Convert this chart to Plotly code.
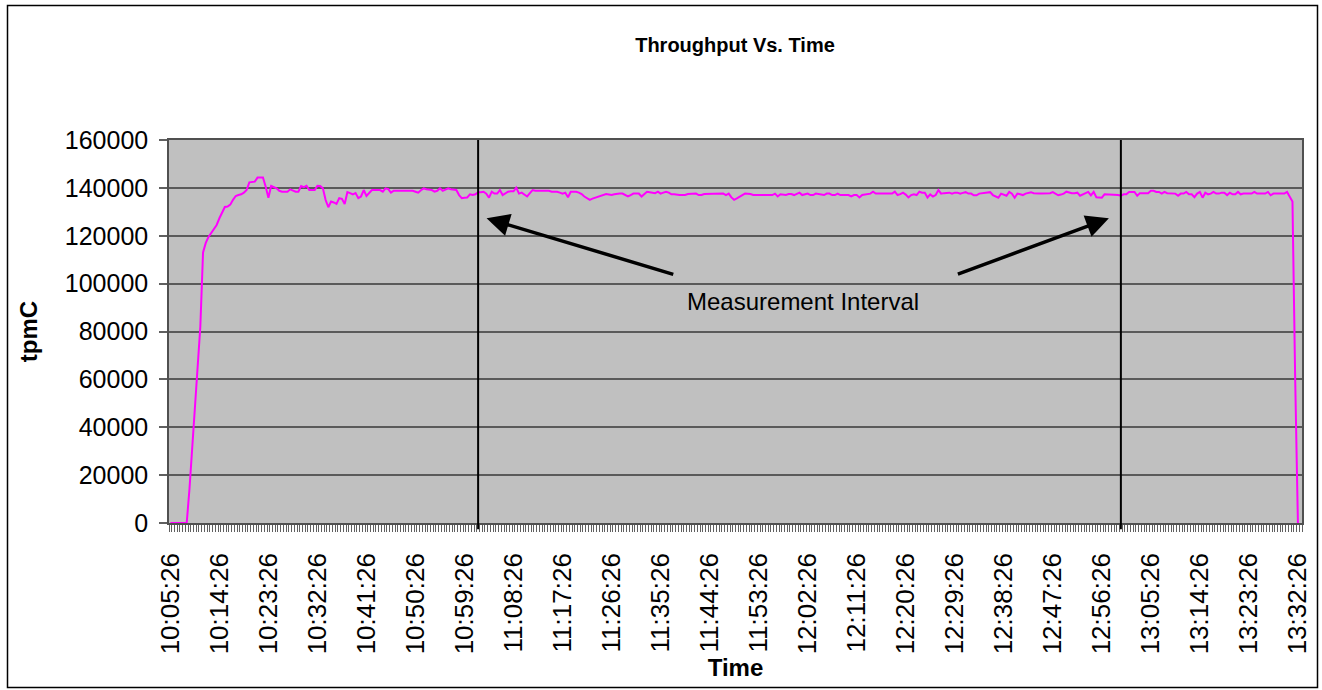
import pandas as pd
import plotly.graph_objects as go

# ---------------- data ----------------
start_time = "10:05:26"
interval_seconds = 30
label_every = 18  # one time label every 9 minutes

tpmc = [
    0, 0, 0, 0, 0, 0, 0, 14000, 30000, 47000,
    66000, 82000, 113000, 117000, 119500, 121000, 123000, 124500, 127300, 129500,
    132000, 132200, 133000, 135000, 136600, 137000, 137300, 138000, 139100, 142300,
    142500, 142600, 144300, 144300, 144300, 140500, 135900, 140800, 140200, 139800,
    138800, 138400, 138400, 138400, 139400, 138900, 138400, 138400, 140800, 140300,
    140900, 139100, 139100, 139100, 140900, 140800, 139800, 135000, 131900, 134300,
    133900, 133300, 135700, 135400, 133300, 138200, 137800, 137300, 137800, 135700,
    136400, 139100, 136600, 137800, 139100, 139100, 139100, 139100, 138400, 139800,
    139500, 138000, 138800, 138800, 139100, 138800, 139100, 138800, 139100, 138800,
    138400, 138000, 139000, 139800, 139400, 139100, 139100, 138400, 138800, 139800,
    138800, 139300, 139800, 139400, 139100, 139100, 137000, 135700, 135900, 136000,
    137300, 137000, 137300, 138200, 138200, 138400, 137600, 135900, 138400, 137600,
    137600, 139100, 137000, 137800, 138400, 138600, 138600, 140100, 137600, 138000,
    137000, 136400, 137800, 139100, 138800, 138800, 138800, 139100, 139100, 138800,
    138400, 138400, 138400, 138000, 137600, 138000, 136100, 138400, 138400, 138400,
    138000, 137400, 136400, 135600, 135000, 135500, 135900, 136200, 136400, 137000,
    137400, 137200, 137000, 137300, 137600, 137600, 137600, 137000, 136400, 137000,
    137600, 137600, 137600, 136400, 137600, 138400, 138200, 138000, 137800, 138400,
    137600, 138000, 138400, 138000, 137300, 137300, 137000, 137000, 137000, 137000,
    137400, 137400, 137600, 137600, 137000, 137000, 137400, 137400, 137600, 137600,
    137600, 137600, 137600, 137600, 137000, 137600, 136000, 135000, 135600, 136400,
    137000, 137600, 137600, 137400, 137000, 137000, 137000, 137000, 137000, 137000,
    137000, 137000, 137600, 136400, 137300, 137300, 137000, 137400, 137400, 137000,
    137600, 138000, 137000, 137300, 137600, 137000, 137000, 137600, 137300, 137000,
    137000, 137600, 137600, 137000, 137000, 137600, 137000, 137000, 137000, 137000,
    136400, 137000, 137000, 136000, 137000, 137300, 137600, 137600, 138400, 137600,
    137600, 137600, 137600, 137600, 137600, 137600, 138400, 137000, 137400, 138000,
    137200, 136000, 137000, 137300, 137000, 138400, 138000, 138000, 136000, 137300,
    136400, 137000, 139100, 137600, 137800, 138000, 138000, 137600, 138000, 138000,
    137600, 137900, 138200, 137600, 137600, 136900, 136900, 137600, 137800, 138000,
    138200, 138200, 137000, 136500, 135900, 137600, 137000, 136700, 138300, 137600,
    135900, 137600, 137300, 137000, 137600, 137800, 138200, 137800, 137600, 137600,
    137600, 137600, 137800, 137800, 138200, 137600, 136900, 137200, 137600, 138400,
    138000, 137800, 137800, 138000, 136700, 137300, 137800, 138300, 136900, 138300,
    136100, 136100, 135900, 137300, 137300, 137000, 137000, 137300, 137000, 136700,
    137300, 137300, 138300, 138300, 138300, 136700, 137800, 137800, 137800, 137800,
    138800, 138800, 138300, 138300, 137600, 138300, 137800, 137800, 137600, 137600,
    136700, 137600, 137600, 138300, 137300, 137300, 136100, 137600, 138300, 135900,
    138000, 137300, 137600, 138300, 137600, 137600, 138000, 138000, 137000, 138000,
    137300, 137300, 138300, 137300, 137600, 137600, 137600, 137600, 138300, 137600,
    137600, 137600, 137600, 138300, 136900, 137600, 137600, 137600, 137600, 137600,
    138300, 136100, 134300, 60000, 0,
]

# category labels (one sample every 30 s)
times = pd.date_range("2000-01-01 " + start_time, periods=len(tpmc),
                      freq=f"{interval_seconds}s").strftime("%H:%M:%S").tolist()
idx = list(range(len(tpmc)))
tick_idx = idx[::label_every]
tick_text = [times[i] for i in tick_idx]

# measurement interval boundaries (category index)
interval_start_idx = 113
interval_end_idx = 349

y_ticks = [0, 20000, 40000, 60000, 80000, 100000, 120000, 140000, 160000]
y_tick_text = [str(v) for v in y_ticks]

# ---------------- figure ----------------
fig = go.Figure()
fig.add_trace(go.Scatter(
    x=idx, y=tpmc, mode="lines",
    line=dict(color="#FF00FF", width=2),
    customdata=times,
    hovertemplate="%{customdata}<br>%{y}<extra></extra>",
    showlegend=False,
))

font_family = "Liberation Sans, Arial, sans-serif"

fig.update_layout(
    width=1322, height=690,
    margin=dict(l=169, r=20, t=140, b=167, autoexpand=False),
    paper_bgcolor="white",
    plot_bgcolor="#C0C0C0",
    font=dict(family=font_family, color="black"),
    title=dict(text="<b>Throughput Vs. Time</b>", x=735 / 1322, xref="container",
               xanchor="center", y=1 - 45 / 690, yref="container", yanchor="middle",
               font=dict(size=20, family=font_family, color="black")),
    xaxis=dict(
        range=[-0.5, len(tpmc) + 0.5],
        tickmode="array", tickvals=tick_idx, ticktext=tick_text,
        tickangle=-90, tickfont=dict(size=26),
        ticks="outside", ticklen=8, tickcolor="rgba(0,0,0,0)",
        ticklabelstandoff=10,
        showgrid=False, zeroline=False,
        showline=True, linecolor="#505050", linewidth=1.5, mirror=True,
        minor=dict(ticks="outside", ticklen=7, tickcolor="#606060", tickwidth=1,
                   tickmode="linear", tick0=-0.5, dtick=1, showgrid=False),
        title=dict(text="<b>Time</b>", font=dict(size=24), standoff=6),
        automargin=False,
    ),
    yaxis=dict(
        range=[0, 160000], tickmode="array", tickvals=y_ticks, ticktext=y_tick_text,
        tickfont=dict(size=25),
        ticks="outside", ticklen=8, tickcolor="#606060", tickwidth=1.5,
        ticklabelstandoff=6,
        showgrid=True, gridcolor="#5a5a5a", gridwidth=1.5,
        zeroline=False,
        showline=True, linecolor="#505050", linewidth=1.5, mirror=True,
        title=dict(text="<b>tpmC</b>", font=dict(size=24), standoff=20),
        automargin=False,
    ),
)

# measurement interval boundaries
for xi in (interval_start_idx, interval_end_idx):
    fig.add_shape(type="line", xref="x", yref="paper", x0=xi, x1=xi,
                  y0=-0.016, y1=1, line=dict(color="black", width=2))

# outer chart border
fig.add_shape(type="rect", xref="paper", yref="paper",
              x0=(7.5 - 169) / 1133, x1=(1317.5 - 169) / 1133,
              y0=(523 - 687.5) / 383, y1=(523 - 5.5) / 383,
              line=dict(color="black", width=1.5), fillcolor="rgba(0,0,0,0)")

# arrows + label
arrow_y_tail = 103700
arrow_y_tip = 127300
for tail_x, tip_x in ((185.2, 116.1), (288.6, 344.6)):
    fig.add_annotation(x=tip_x, y=arrow_y_tip, ax=tail_x, ay=arrow_y_tail,
                       xref="x", yref="y", axref="x", ayref="y",
                       text="", showarrow=True, arrowhead=2, arrowsize=1.3,
                       arrowwidth=3.5, arrowcolor="black", standoff=0)
fig.add_annotation(x=232.2, y=92400, xref="x", yref="y", text="Measurement Interval",
                   showarrow=False, xanchor="center", yanchor="middle",
                   font=dict(size=24, color="black"))

fig.write_html("out.html")
